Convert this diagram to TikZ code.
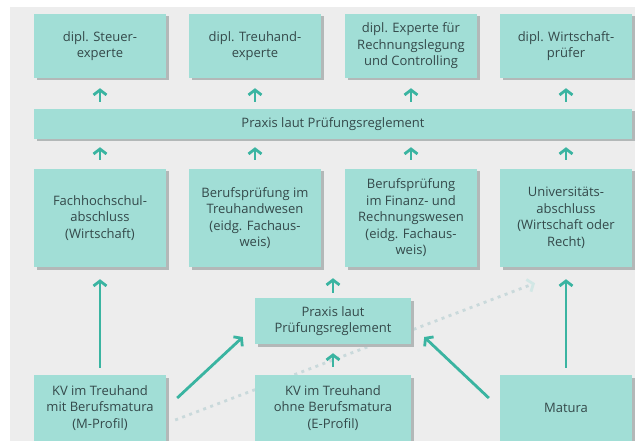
\documentclass[tikz,border=0pt]{standalone}
\usepackage{fontspec}
\setmainfont{Open Sans}
\usetikzlibrary{arrows.meta,positioning,backgrounds,shadows}
\definecolor{paper}{HTML}{EDEDED}
\definecolor{tealbox}{HTML}{A1DED6}
\definecolor{shade}{HTML}{B3B8B8}
\definecolor{teal}{HTML}{3AB4A1}
\definecolor{ink}{HTML}{34494A}
\definecolor{dots}{HTML}{C9D9DB}
\definecolor{dothead}{HTML}{D2E7E5}
\tikzset{
  every node/.style={font=\fontsize{13}{16.5}\selectfont,text=ink},
  box/.style={fill=tealbox,align=center,inner sep=2pt,minimum width=132pt,
    drop shadow={shadow xshift=2.5pt,shadow yshift=-2.5pt,fill=shade,opacity=1}},
  topbox/.style={box,minimum height=64pt},
  midbox/.style={box,minimum height=98pt},
  lowbox/.style={box,minimum height=66pt},
  barbox/.style={box,minimum width=598pt,minimum height=30pt},
  arr/.style={-{Straight Barb[length=5pt,width=13pt]},line width=2.8pt,draw=teal},
  dotarr/.style={-{Straight Barb[length=5pt,width=13pt,color=dothead]},line width=2.8pt,draw=dots,dash pattern=on 3pt off 4.5pt},
}

\begin{document}
\begin{tikzpicture}[x=1pt,y=-1pt]
\useasboundingbox (0,0) rectangle (635,441);
\node[topbox] (stx) at (100,46) {dipl. Steuer-\\experte};
\node[topbox] (thx) at (255,46) {dipl. Treuhand-\\experte};
\node[topbox] (rcx) at (411,46) {dipl. Experte für\\Rechnungslegung\\und Controlling};
\node[topbox] (wpx) at (566,46) {dipl. Wirtschaft-\\prüfer};
\node[barbox] (praxis) at (333,124) {Praxis laut Prüfungsreglement};
\node[midbox] (fhs) at (100,218) {Fachhochschul-\\abschluss\\(Wirtschaft)};
\node[midbox] (bpt) at (255,218) {Berufsprüfung im\\Treuhandwesen\\(eidg. Fachaus-\\weis)};
\node[midbox] (bpf) at (411,218) {Berufsprüfung\\im Finanz- und\\Rechnungswesen\\(eidg. Fachaus-\\weis)};
\node[midbox] (uni) at (566,218) {Universitäts-\\abschluss\\(Wirtschaft oder\\Recht)};
\node[box,minimum width=156pt,minimum height=46pt] (prx) at (333,321) {Praxis laut\\Prüfungsreglement};
\node[lowbox] (kvm) at (100,408) {KV im Treuhand\\mit Berufsmatura\\(M-Profil)};
\node[lowbox,minimum width=156pt] (kve) at (333,408) {KV im Treuhand\\ohne Berufsmatura\\(E-Profil)};
\node[lowbox] (mat) at (566,408) {Matura};
\begin{scope}[on background layer]
\fill[paper] (10,7) rectangle (635,441);
\draw[dotarr] ([shift={(9,12)}]kvm.east) -- ([shift={(-31,16)}]uni.south);
\end{scope}
\foreach \n in {stx,thx,rcx,wpx}
  \draw[arr,shorten <=7pt,shorten >=10pt] (praxis.north -| \n) -- (\n.south);
\foreach \n in {fhs,bpt,bpf,uni}
  \draw[arr,shorten <=9pt,shorten >=8pt] (\n.north) -- (praxis.south -| \n);
\draw[arr,shorten <=7pt,shorten >=12pt] (kvm.north) -- (fhs.south);
\draw[arr,shorten <=7pt,shorten >=12pt] (mat.north) -- (uni.south);
\draw[arr] ([shift={(11,-10)}]kvm.east) -- ([shift={(-12,16)}]prx.west);
\draw[arr] ([shift={(-11,-10)}]mat.west) -- ([shift={(13,16)}]prx.east);
\draw[arr,shorten <=8pt,shorten >=9pt] (kve.north) -- (prx.south);
\draw[arr,shorten <=5pt,shorten >=11pt] (prx.north) -- (prx.north |- bpt.south);
\end{tikzpicture}
\end{document}
